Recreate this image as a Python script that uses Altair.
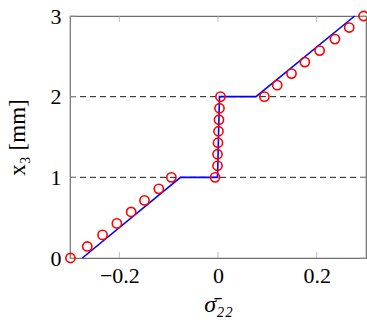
import altair as alt
import pandas as pd

# Blue model line
line_x = [-0.275, -0.076, -0.001, 0.003, 0.077, 0.277]
line_y = [0, 1, 1, 2, 2, 3]

# Red circle reference points
pts_x = [-0.299, -0.265, -0.234, -0.205, -0.176, -0.149, -0.120, -0.0945,
         -0.006, -0.001, -0.001, 0.000, 0.001, 0.002, 0.003, 0.005,
         0.094, 0.120, 0.149, 0.176, 0.206, 0.237, 0.266, 0.295]
pts_y = [0, 0.143, 0.286, 0.429, 0.571, 0.714, 0.857, 1.0,
         1.0, 1.143, 1.286, 1.429, 1.571, 1.714, 1.857, 2.0,
         2.0, 2.143, 2.286, 2.429, 2.571, 2.714, 2.857, 3.0]

dash_y = [1, 2]
x_ticks = [-0.2, 0, 0.2]
y_ticks = [0, 1, 2, 3]

W, H = 296, 242
FONT = "Liberation Serif"

line_df = pd.DataFrame({"x": line_x, "y": line_y, "i": range(len(line_x))})
pts_df = pd.DataFrame({"x": pts_x, "y": pts_y})
dash_df = pd.DataFrame({"y": dash_y})
xt_df = pd.DataFrame({"x": x_ticks})
yt_df = pd.DataFrame({"y": y_ticks})

xscale = alt.Scale(domain=[-0.3, 0.3], nice=False, zero=False)
yscale = alt.Scale(domain=[0, 3], nice=False, zero=False)

xaxis = alt.Axis(values=x_ticks, title="σ̄₂₂", grid=False, domain=False,
                 ticks=False, labelFontSize=22, titleFontSize=24,
                 labelFont=FONT, titleFont=FONT, labelColor="black",
                 titleColor="black", labelPadding=7, titlePadding=6,
                 titleFontWeight="normal", titleFontStyle="italic",
                 labelExpr="datum.value == 0 ? '0' : replace(format(datum.value, '.1f'), '-', '−')")
yaxis = alt.Axis(values=y_ticks, title="x₃ [mm]", grid=False, domain=False,
                 ticks=False, labelFontSize=22, titleFontSize=23,
                 labelFont=FONT, titleFont=FONT, labelColor="black",
                 titleColor="black", labelPadding=9, titlePadding=21,
                 titleFontWeight="normal", format="d")

dash = alt.Chart(dash_df).mark_rule(color="black", strokeWidth=0.9,
                                    strokeDash=[6, 4]).encode(
    y=alt.Y("y:Q", scale=yscale, axis=yaxis)
)

# inward ticks on all four sides
tb = alt.Chart(xt_df).mark_rule(color="#aaaaaa", strokeWidth=0.8).encode(
    x=alt.X("x:Q", scale=xscale, axis=xaxis), y=alt.value(H), y2=alt.value(H - 6))
tt = alt.Chart(xt_df).mark_rule(color="#aaaaaa", strokeWidth=0.8).encode(
    x=alt.X("x:Q", scale=xscale), y=alt.value(0), y2=alt.value(6))
tl = alt.Chart(yt_df).mark_rule(color="#aaaaaa", strokeWidth=0.8).encode(
    y=alt.Y("y:Q", scale=yscale), x=alt.value(0), x2=alt.value(6))
tr = alt.Chart(yt_df).mark_rule(color="#aaaaaa", strokeWidth=0.8).encode(
    y=alt.Y("y:Q", scale=yscale), x=alt.value(W), x2=alt.value(W - 6))

line = alt.Chart(line_df).mark_line(color="blue", strokeWidth=1.6).encode(
    x=alt.X("x:Q", scale=xscale),
    y=alt.Y("y:Q", scale=yscale),
    order="i:Q",
)

pts = alt.Chart(pts_df).mark_point(shape="circle", filled=False, color="red",
                                   size=85, strokeWidth=1.6, opacity=1).encode(
    x=alt.X("x:Q", scale=xscale),
    y=alt.Y("y:Q", scale=yscale),
)

chart = alt.layer(dash, tb, tt, tl, tr, line, pts).properties(
    width=W, height=H,
    padding={"left": 70, "top": 16, "right": 1, "bottom": 66},
    autosize=alt.AutoSizeParams(type="none"),
    background="white",
).configure_view(stroke="#707070", strokeWidth=1.2, clip=False)

chart.save("out.html", embed_options={"renderer": "svg", "actions": False})
